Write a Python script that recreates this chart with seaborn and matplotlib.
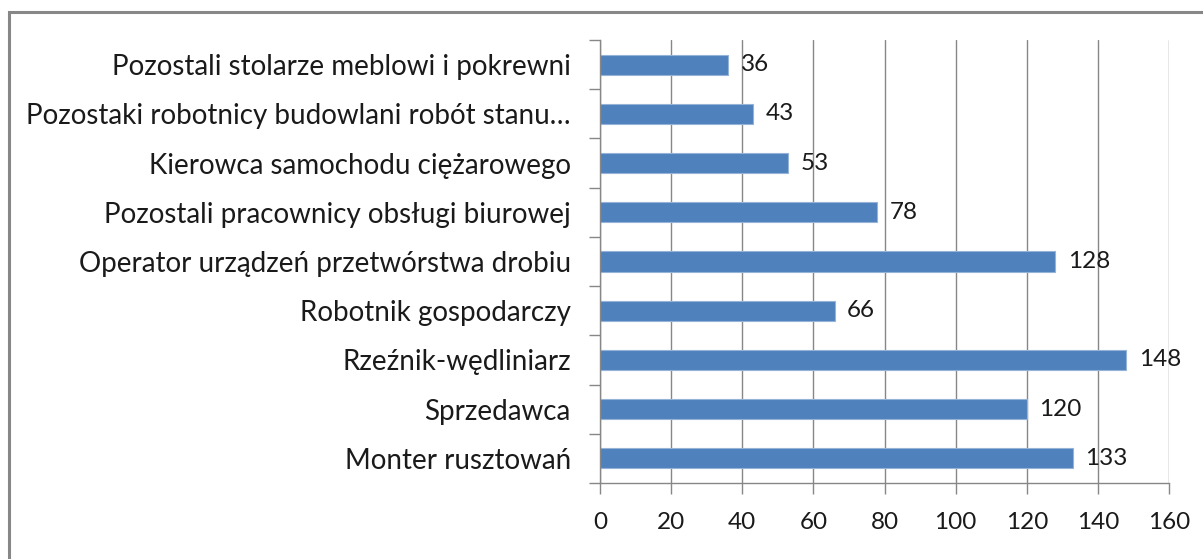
import numpy as np
import pandas as pd
import matplotlib
matplotlib.use('Agg')
import matplotlib.pyplot as plt
from matplotlib.patches import Rectangle
import seaborn as sns

# data, top to bottom as in the chart
categories = ['Pozostali stolarze meblowi i pokrewni',
              'Pozostaki robotnicy budowlani robót stanu…',
              'Kierowca samochodu ciężarowego',
              'Pozostali pracownicy obsługi biurowej',
              'Operator urządzeń przetwórstwa drobiu',
              'Robotnik gospodarczy',
              'Rzeźnik-wędliniarz',
              'Sprzedawca',
              'Monter rusztowań']
values = [36, 43, 53, 78, 128, 66, 148, 120, 133]
x_ticks = [0, 20, 40, 60, 80, 100, 120, 140, 160]

df = pd.DataFrame({'zawod': categories, 'liczba': values})

sns.set_style('white')
plt.rcParams['font.family'] = ['Lato', 'DejaVu Sans']

fig = plt.figure(figsize=(12.03, 5.59), dpi=100)
ax = fig.add_axes([600 / 1203, 1 - 483 / 559, 569 / 1203, 443 / 559])

sns.barplot(data=df, x='liczba', y='zawod', orient='h', order=categories,
            color='#4F81BD', edgecolor='#95B3D7', linewidth=0.8,
            width=0.41, saturation=1, ax=ax)

ax.set_xlim(0, 160)
ax.set_ylim(8.5, -0.5)
ax.set_xticks(x_ticks)
ax.set_xticklabels([str(t) for t in x_ticks], fontsize=17.5, color='#1a1a1a')
ax.tick_params(axis='x', length=8, width=1, color='#878787', pad=13, direction='out', bottom=True)
ax.xaxis.grid(True, color='#878787', linewidth=1)
ax.set_axisbelow(True)

# category labels, tick marks between categories like Excel
ax.set_yticks(range(len(categories)))
ax.set_yticklabels(categories, fontsize=20, color='#1a1a1a')
ax.tick_params(axis='y', which='major', length=0, pad=21)
ax.set_yticks(np.arange(-0.5, len(categories), 1), minor=True)
ax.tick_params(axis='y', which='minor', length=8, width=1, color='#878787', left=True, direction='out')

ax.set_xlabel('')
ax.set_ylabel('')
for s in ['top', 'right']:
    ax.spines[s].set_visible(False)
for s in ['left', 'bottom']:
    ax.spines[s].set_color('#878787')
    ax.spines[s].set_linewidth(1)

ax.bar_label(ax.containers[0], labels=[str(v) for v in values], padding=9,
             fontsize=17.5, color='#1a1a1a')

# chart frame (cut off on right and bottom)
fig.patches.append(Rectangle((9 / 1203, -0.1), 1.2, 1 - 12 / 559 + 0.1,
                             transform=fig.transFigure, fill=False,
                             edgecolor='#878787', linewidth=2.2))

fig.savefig('out.png', dpi=100)
